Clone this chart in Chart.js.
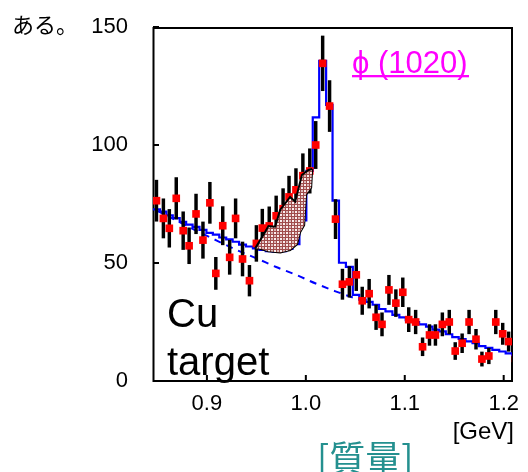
<!DOCTYPE html>
<html>
<head>
<meta charset="utf-8">
<script src="https://cdn.jsdelivr.net/npm/chart.js@4.4.1/dist/chart.umd.min.js"></script>
<style>
  html, body { margin: 0; padding: 0; background: #fff; }
</style>
</head>
<body>
<canvas id="grafico" width="528" height="472"></canvas>
<script>
// bin centres [GeV]
const masses = [
  0.849, 0.856, 0.862, 0.869, 0.876, 0.882, 0.889, 0.896, 0.903, 0.909,
  0.916, 0.923, 0.929, 0.936, 0.943, 0.950, 0.956, 0.963, 0.970, 0.977,
  0.983, 0.990, 0.997, 1.004, 1.010, 1.017, 1.024, 1.030, 1.037, 1.044,
  1.051, 1.057, 1.064, 1.071, 1.077, 1.084, 1.091, 1.098, 1.104, 1.111,
  1.118, 1.125, 1.131, 1.138, 1.145, 1.151, 1.158, 1.165, 1.172, 1.178,
  1.185, 1.192, 1.199, 1.205, 1.212
];
// measured counts (red squares)
const counts = [
  76.4, 68.9, 64.7, 77.4, 63.7, 57.3, 70.8, 59.7, 75.5, 45.6,
  65.8, 52.4, 68.9, 51.7, 42.5, 58.3, 64.8, 65.7, 70.0, 73.0,
  78.0, 81.0, 87.0, 89.0, 100.0, 134.6, 116.5, 68.6, 41.0, 42.0,
  45.0, 34.0, 37.0, 27.0, 24.0, 38.6, 33.0, 37.6, 26.0, 25.0,
  14.5, 19.5, 19.5, 24.0, 25.0, 12.7, 16.0, 25.0, 17.7, 9.3,
  10.6, 25.0, 20.0, 16.7, 9.6
];
const errors = [
  8.7, 8.3, 8.0, 8.8, 8.0, 7.6, 8.4, 7.7, 8.7, 6.8,
  8.1, 7.2, 8.3, 7.2, 6.5, 7.6, 8.0, 8.1, 8.4, 8.5,
  8.8, 9.0, 9.3, 9.4, 10.0, 11.6, 10.8, 8.3, 6.4, 6.5,
  6.7, 5.8, 6.1, 5.2, 4.9, 6.2, 5.7, 6.1, 5.1, 5.0,
  3.8, 4.4, 4.4, 4.9, 5.0, 3.6, 4.0, 5.0, 4.2, 3.0,
  3.3, 5.0, 4.5, 4.1, 3.1
];
// fitted histogram (solid blue)
const fitCounts = [
  72.7, 71.8, 70.2, 69.0, 67.4, 66.3, 65.3, 64.0, 62.8, 62.0,
  60.8, 60.0, 59.0, 57.8, 57.0, 56.2, 55.6, 55.0, 54.8, 55.0,
  56.0, 58.0, 68.0, 89.0, 111.7, 135.7, 117.0, 76.4, 50.1, 48.4,
  36.5, 34.5, 33.5, 32.3, 30.5, 29.5, 28.0, 27.0, 25.8, 25.0,
  24.0, 23.0, 21.8, 21.0, 19.8, 18.6, 17.8, 16.8, 16.0, 14.8,
  14.0, 13.2, 12.5, 11.7, 11.0
];
// background (dashed blue)
const bgMass = [0.849, 0.87, 0.89, 0.91, 0.93, 0.95, 0.97, 0.99, 1.01, 1.03, 1.05];
const bgCounts = [72.3, 67.8, 63.5, 59.5, 55.5, 52.0, 48.3, 45.0, 41.3, 38.0, 35.0];
// excess area (hatched)
const excessUpperMass = [0.9488, 0.9572, 0.9622, 0.9690, 0.9740, 0.9841, 0.9892, 0.9960, 1.0026, 1.0064];
const excessUpperCounts = [56.2, 62.0, 65.7, 65.4, 72.5, 78.0, 76.0, 87.3, 89.4, 89.8];
const excessLowerMass = [0.9488, 0.9539, 0.9619, 0.9742, 0.9842, 0.9912, 0.9942, 0.9983, 1.0003, 1.0054, 1.0064];
const excessLowerCounts = [56.2, 56.0, 55.0, 54.5, 55.5, 58.0, 63.0, 66.0, 79.0, 82.0, 89.8];

const xTicks = [0.9, 1.0, 1.1, 1.2];
const yTicks = [0, 50, 100, 150];

const FONT = "'Liberation Sans', Arial, sans-serif";
const CJK = "'Noto Sans CJK JP', sans-serif";

function patronRejilla() {
  const c = document.createElement('canvas');
  c.width = 6; c.height = 6;
  const g = c.getContext('2d');
  g.fillStyle = '#a04c4c';
  g.fillRect(0, 0, 6, 6);
  g.fillStyle = '#fbf0f0';
  g.fillRect(1, 1, 2, 2);
  g.fillRect(4, 4, 2, 2);
  g.fillStyle = '#dcb8b8';
  g.fillRect(4, 1, 2, 2);
  g.fillRect(1, 4, 2, 2);
  return g.createPattern(c, 'repeat');
}

const halfBin = (masses[1] - masses[0]) / 2;
const histData = [
  { x: masses[0] - halfBin, y: 0 },
  { x: masses[0] - halfBin, y: fitCounts[0] }
].concat(masses.map((m, i) => ({ x: m, y: fitCounts[i] })))
 .concat([{ x: masses[masses.length - 1] + halfBin, y: fitCounts[fitCounts.length - 1] }]);

const marco = {
  id: 'marco',
  beforeDatasetsDraw(chart) {
    const { ctx, chartArea: a, scales } = chart;
    ctx.save();
    ctx.strokeStyle = '#000';
    ctx.lineWidth = 2;
    ctx.strokeRect(a.left + 0.5, a.top + 1, a.right - a.left - 0.5, a.bottom - a.top - 1);
    ctx.beginPath();
    yTicks.forEach(v => {
      const y = scales.y.getPixelForValue(v);
      ctx.moveTo(a.left, y);
      ctx.lineTo(a.left + 6, y);
    });
    xTicks.forEach(v => {
      const x = scales.x.getPixelForValue(v);
      ctx.moveTo(x, a.bottom);
      ctx.lineTo(x, a.bottom - 6);
    });
    ctx.stroke();
    ctx.restore();
  },
  afterDraw(chart) {
    const { ctx } = chart;
    ctx.save();
    ctx.textBaseline = 'alphabetic';
    ctx.fillStyle = '#000';
    ctx.font = `22px ${CJK}`;
    ctx.fillText('ある。', 12, 33);

    ctx.font = `40px ${FONT}`;
    ctx.fillText('Cu', 167, 327);
    ctx.fillText('target', 167, 375);

    ctx.font = `24px ${FONT}`;
    ctx.textAlign = 'right';
    ctx.fillText('[GeV]', 514, 439);

    ctx.textAlign = 'left';
    ctx.fillStyle = '#ff00ff';
    ctx.font = `31px ${FONT}`;
    ctx.fillText('ϕ (1020)', 352, 73);
    ctx.fillRect(352, 75, 117, 2.3);

    ctx.fillStyle = '#24908f';
    ctx.font = `36px ${CJK}`;
    ctx.fillText('[質量]', 317, 472);
    ctx.restore();
  }
};

const ctx = document.getElementById('grafico').getContext('2d');
const pattern = patronRejilla();

new Chart(ctx, {
  type: 'scatter',
  data: {
    datasets: [
      {
        data: excessUpperMass.map((m, i) => ({ x: m, y: excessUpperCounts[i] })),
        showLine: true,
        borderColor: '#000',
        borderWidth: 2,
        pointRadius: 0,
        backgroundColor: pattern,
        fill: '+1',
        order: 1
      },
      {
        data: excessLowerMass.map((m, i) => ({ x: m, y: excessLowerCounts[i] })),
        showLine: true,
        borderColor: '#000',
        borderWidth: 2,
        pointRadius: 0,
        fill: false,
        order: 1
      },
      {
        data: masses.map((m, i) => ({ x: m, y: counts[i] })),
        pointStyle: 'rect',
        pointRadius: 5.4,
        backgroundColor: '#ff0000',
        borderWidth: 0,
        clip: 0,
        order: 3
      },
      {
        type: 'bar',
        data: masses.map((m, i) => ({ x: m, y: [counts[i] - errors[i], counts[i] + errors[i]] })),
        backgroundColor: '#000',
        barThickness: 2.8,
        borderWidth: 0,
        clip: 0,
        order: 4
      },
      {
        data: histData,
        showLine: true,
        stepped: 'middle',
        borderColor: '#0000ff',
        borderWidth: 2.2,
        pointRadius: 0,
        fill: false,
        order: 5
      },
      {
        data: bgMass.map((m, i) => ({ x: m, y: bgCounts[i] })),
        showLine: true,
        borderColor: '#0000ff',
        borderWidth: 2,
        borderDash: [7, 6],
        cubicInterpolationMode: 'monotone',
        pointRadius: 0,
        fill: false,
        order: 6
      }
    ]
  },
  options: {
    responsive: false,
    animation: false,
    devicePixelRatio: 1,
    layout: { padding: { top: 27, right: 16, left: 0, bottom: 0 } },
    plugins: {
      legend: { display: false },
      tooltip: { enabled: false }
    },
    scales: {
      x: {
        type: 'linear',
        min: 0.8455,
        max: 1.2084,
        offset: false,
        grid: { display: false, drawTicks: false },
        border: { display: false },
        afterBuildTicks: (s) => { s.ticks = xTicks.map(v => ({ value: v })); },
        afterFit: (s) => { s.height = 91; s.paddingLeft = 0; s.paddingRight = 0; },
        ticks: {
          color: '#000',
          padding: 10,
          font: { family: FONT, size: 22 },
          callback: (v) => v.toFixed(1)
        }
      },
      y: {
        type: 'linear',
        min: 0,
        max: 150,
        grid: { display: false, drawTicks: false },
        border: { display: false },
        afterBuildTicks: (s) => { s.ticks = yTicks.map(v => ({ value: v })); },
        afterFit: (s) => { s.width = 153; s.paddingTop = 0; s.paddingBottom = 0; },
        ticks: {
          color: '#000',
          padding: 25,
          font: { family: FONT, size: 22 },
          callback: (v) => String(v)
        }
      }
    }
  },
  plugins: [marco]
});
</script>
</body>
</html>
